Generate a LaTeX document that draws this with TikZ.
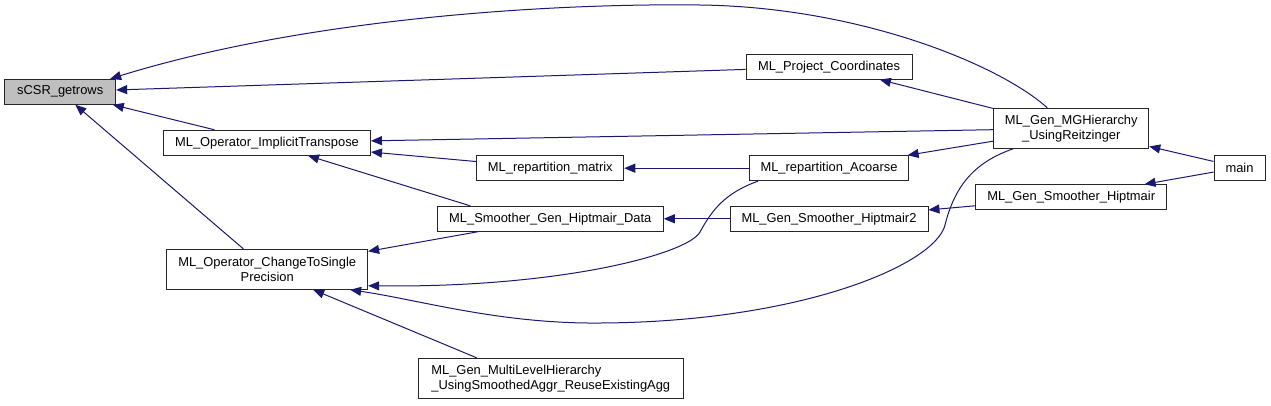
\documentclass[tikz,border=0pt]{standalone}
\usepackage{fontspec}
\setmainfont{Liberation Sans}
\usepackage{xcolor}
\usepackage{tikz}
\usetikzlibrary{arrows.meta}
\definecolor{callblue}{HTML}{191970}
\definecolor{rootgray}{HTML}{BFBFBF}

\begin{document}
\begin{tikzpicture}[
  x=1pt, y=-1pt,
  every node/.style={rectangle, draw=black!85, line width=0.9pt, inner sep=0pt,
                     minimum height=25pt, align=center,
                     font=\fontsize{12.9}{15}\selectfont},
  tall/.style={minimum height=40pt},
  arrow/.style={-{Triangle[length=11pt,width=9pt]}, draw=callblue, line width=1pt}
]
  \useasboundingbox (0,0) rectangle (1271,405);

  \node[fill=rootgray, minimum width=111pt] (sCSR) at (60.2,91.8) {sCSR\_getrows};
  \node[minimum width=207pt] (impl) at (267,142.7) {ML\_Operator\_ImplicitTranspose};
  \node[tall, minimum width=201pt] (single) at (267.2,269.3) {ML\_Operator\_ChangeToSingle\\Precision};
  \node[minimum width=147pt] (repmat) at (550.3,168.2) {ML\_repartition\_matrix};
  \node[minimum width=226pt] (hipdata) at (550.3,218.8) {ML\_Smoother\_Gen\_Hiptmair\_Data};
  \node[tall, minimum width=265pt, align=left] (mlh) at (550.8,378.3) {ML\_Gen\_MultiLevelHierarchy\\\_UsingSmoothedAggr\_ReuseExistingAgg};
  \node[minimum width=166pt] (proj) at (829,66.7) {ML\_Project\_Coordinates};
  \node[minimum width=159pt] (repac) at (829,168.2) {ML\_repartition\_Acoarse};
  \node[minimum width=198pt] (hip2) at (829,218.8) {ML\_Gen\_Smoother\_Hiptmair2};
  \node[tall, minimum width=155pt] (mgh) at (1071.3,128.3) {ML\_Gen\_MGHierarchy\\\_UsingReitzinger};
  \node[minimum width=191pt] (hip) at (1071.2,197.2) {ML\_Gen\_Smoother\_Hiptmair};
  \node[minimum width=51pt] (main) at (1239.5,167.5) {main};

  \draw[arrow] ([xshift=-24pt]mgh.north) .. controls (1000,65) and (860,7) .. (700,5)
               .. controls (540,3) and (300,20) .. ([xshift=-6pt]sCSR.north east);
  \draw[arrow] (proj) -- (sCSR);
  \draw[arrow] (impl) -- (sCSR);
  \draw[arrow] (single) -- (sCSR);
  \draw[arrow] (mgh) -- (proj);
  \draw[arrow] (mgh) -- (impl);
  \draw[arrow] (repmat) -- (impl);
  \draw[arrow] ([xshift=-80pt]hipdata.north) -- ([xshift=41pt]impl.south);
  \draw[arrow] (repac) -- (repmat);
  \draw[arrow] (mgh) -- (repac);
  \draw[arrow] (hipdata) -- (single);
  \draw[arrow] ([xshift=-71pt]repac.south) .. controls (725,193) and (712,210) .. (700,232)
               .. controls (688,254) and (560,288) .. ([yshift=4pt]single.south east);
  \draw[arrow] ([xshift=-58pt]mgh.south) .. controls (975,162) and (955,185) .. (945,225)
               .. controls (935,265) and (800,322) .. (600,323)
               .. controls (500,324) and (420,300) .. ([xshift=-18pt]single.south east);
  \draw[arrow] ([xshift=-74pt]mlh.north) -- ([xshift=46pt]single.south);
  \draw[arrow] (hip2) -- (hipdata);
  \draw[arrow] (hip) -- (hip2);
  \draw[arrow] (main) -- (mgh);
  \draw[arrow] (main) -- (hip);
\end{tikzpicture}
\end{document}
